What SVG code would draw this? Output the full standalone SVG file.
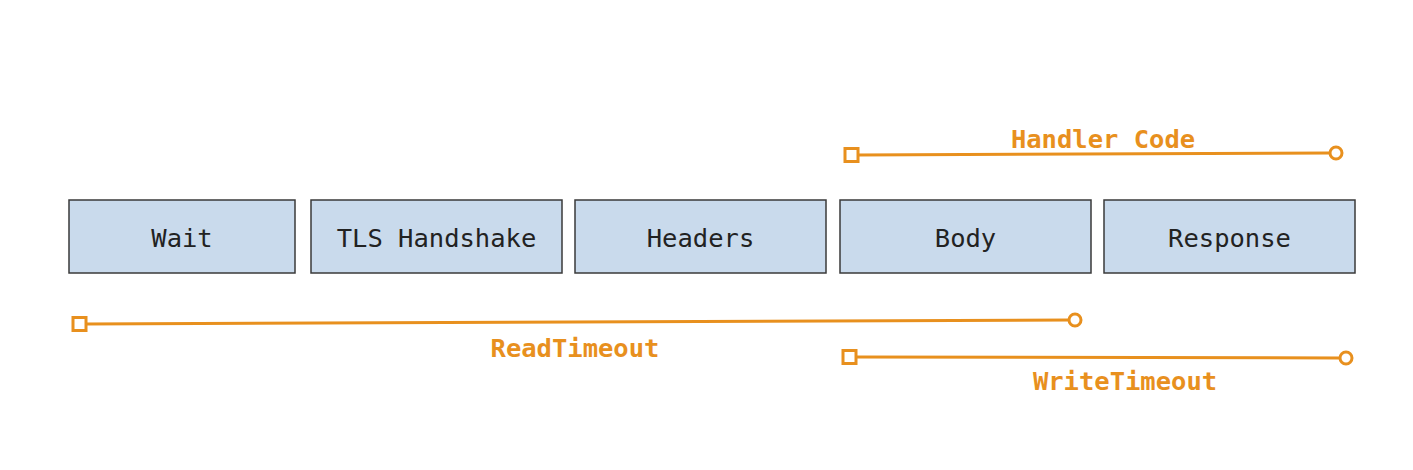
<svg xmlns="http://www.w3.org/2000/svg" width="1413" height="470" viewBox="0 0 1413 470">
<style>
.box{fill:#c9daec;stroke:#3a3a3a;stroke-width:1.5}
.lbl{font-family:"DejaVu Sans Mono","Liberation Mono",monospace;font-size:25.5px;fill:#222;text-anchor:middle}
.ol{stroke:#e8901e;stroke-width:3;fill:none}
.oend{stroke:#e8901e;stroke-width:3;fill:#fff}
.otxt{font-family:"DejaVu Sans Mono","Liberation Mono",monospace;font-size:25.5px;font-weight:bold;fill:#e8901e;text-anchor:middle}
</style>
<rect width="1413" height="470" fill="#fff"/>
<g id="wait"><rect class="box" x="69" y="200" width="226" height="73"/><text class="lbl" x="182" y="247">Wait</text></g>
<g id="tls"><rect class="box" x="311" y="200" width="251" height="73"/><text class="lbl" x="436.5" y="247">TLS Handshake</text></g>
<g id="headers"><rect class="box" x="575" y="200" width="251" height="73"/><text class="lbl" x="700.5" y="247">Headers</text></g>
<g id="body"><rect class="box" x="840" y="200" width="251" height="73"/><text class="lbl" x="965.5" y="247">Body</text></g>
<g id="response"><rect class="box" x="1104" y="200" width="251" height="73"/><text class="lbl" x="1229.5" y="247">Response</text></g>
<g id="connectors">
<g id="handler-code">
<line class="ol" x1="858" y1="155" x2="1330" y2="153"/>
<rect class="oend" x="845" y="148.5" width="13" height="13"/>
<circle class="oend" cx="1336" cy="153" r="6"/>
<text class="otxt" x="1103" y="148">Handler Code</text>
</g>
<g id="read-timeout">
<line class="ol" x1="86" y1="324" x2="1069" y2="320"/>
<rect class="oend" x="73" y="317.5" width="13" height="13"/>
<circle class="oend" cx="1075" cy="320" r="6"/>
<text class="otxt" x="575" y="357">ReadTimeout</text>
</g>
<g id="write-timeout">
<line class="ol" x1="856" y1="357" x2="1340" y2="358"/>
<rect class="oend" x="843" y="350.5" width="13" height="13"/>
<circle class="oend" cx="1346" cy="358" r="6"/>
<text class="otxt" x="1125" y="390">WriteTimeout</text>
</g>
</g>
</svg>
